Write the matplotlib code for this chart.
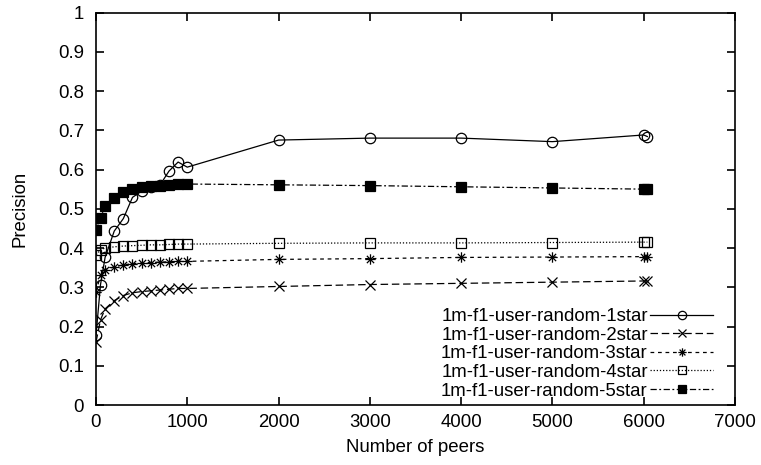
import matplotlib
matplotlib.use("Agg")
import matplotlib.pyplot as plt
from matplotlib.path import Path

plt.rcParams['font.family'] = ['Liberation Sans', 'DejaVu Sans']

# number of peers sampled
peers = [1, 50, 100, 200, 300, 400, 500, 600, 700, 800, 900, 1000,
         2000, 3000, 4000, 5000, 6000, 6040]

# precision per rating level
star1 = [0.179, 0.307, 0.376, 0.443, 0.475, 0.529, 0.545, 0.555, 0.56, 0.596, 0.619, 0.606,
         0.675, 0.68, 0.68, 0.671, 0.688, 0.684]
star2 = [0.161, 0.217, 0.245, 0.266, 0.279, 0.286, 0.289, 0.291, 0.293, 0.295, 0.297, 0.297,
         0.302, 0.307, 0.31, 0.313, 0.316, 0.316]
star3 = [0.289, 0.330, 0.345, 0.352, 0.357, 0.360, 0.362, 0.363, 0.364, 0.365, 0.366, 0.366,
         0.371, 0.373, 0.376, 0.377, 0.378, 0.378]
star4 = [0.383, 0.395, 0.400, 0.403, 0.405, 0.406, 0.407, 0.408, 0.408, 0.409, 0.410, 0.410,
         0.412, 0.413, 0.413, 0.414, 0.415, 0.415]
star5 = [0.445, 0.476, 0.506, 0.528, 0.543, 0.551, 0.555, 0.558, 0.559, 0.561, 0.562, 0.563,
         0.561, 0.559, 0.556, 0.553, 0.550, 0.550]

labels = ['1m-f1-user-random-1star', '1m-f1-user-random-2star', '1m-f1-user-random-3star',
          '1m-f1-user-random-4star', '1m-f1-user-random-5star']

# gnuplot-style asterisk: a plus and a cross on top of each other
asterisk = Path([(-1, 0), (1, 0), (0, -1), (0, 1),
                 (-0.7, -0.7), (0.7, 0.7), (-0.7, 0.7), (0.7, -0.7)],
                [Path.MOVETO, Path.LINETO] * 4)

fs = 13.4

fig = plt.figure(figsize=(7.61, 4.65), dpi=100)
ax = fig.add_axes([0.1261, 0.129, 0.8397, 0.8441])

lw = 0.9
ax.plot(peers, star1, color='black', lw=lw, ls='-', marker='o', ms=7.5,
        mfc='none', mew=0.9, label=labels[0])
ax.plot(peers, star2, color='black', lw=lw, ls=(0, (6, 3)), marker='x', ms=7.5,
        mew=0.9, label=labels[1])
ax.plot(peers, star3, color='black', lw=lw, ls=(0, (3, 3)), marker=asterisk, ms=7.5,
        mfc='none', mew=0.9, label=labels[2])
ax.plot(peers, star4, color='black', lw=lw, ls=(0, (1, 1.5)), marker='s', ms=7,
        mfc='none', mew=0.9, label=labels[3])
ax.plot(peers, star5, color='black', lw=lw, ls=(0, (5, 2, 1.5, 2)), marker='s', ms=7.5,
        mfc='black', mew=0.9, label=labels[4])

ax.set_xlim(0, 7000)
ax.set_ylim(0, 1)
ax.set_xticks(range(0, 7001, 1000))
ax.set_yticks([i / 10 for i in range(11)])
ax.set_yticklabels(['0', '0.1', '0.2', '0.3', '0.4', '0.5', '0.6', '0.7', '0.8', '0.9', '1'])
ax.tick_params(axis='y', pad=8.5)
ax.tick_params(axis='x', pad=6.5)
ax.tick_params(direction='in', length=6, width=1.2, top=True, right=True,
               labelsize=fs, colors='black')
for s in ax.spines.values():
    s.set_linewidth(1.2)
    s.set_color('black')

ax.set_xlabel('Number of peers', fontsize=fs, labelpad=6)
ax.set_ylabel('Precision', fontsize=fs, labelpad=21)

ax.legend(loc='upper right', bbox_to_anchor=(0.966, 0.247), frameon=False,
          markerfirst=False, fontsize=fs, handlelength=3.4, handletextpad=0.12,
          labelspacing=0.085, borderaxespad=0, borderpad=0, markerscale=0.8)

fig.savefig('out.png', dpi=100)
